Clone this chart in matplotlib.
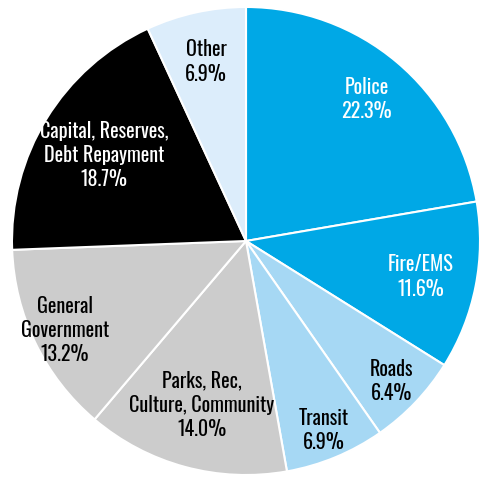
import numpy as np
import matplotlib
matplotlib.use("Agg")
from matplotlib import pyplot as plt

labels = ["Police", "Fire/EMS", "Roads", "Transit", "Parks, Rec,\nCulture, Community",
          "General\nGovernment", "Capital, Reserves,\nDebt Repayment", "Other"]
shares = [22.3, 11.6, 6.4, 6.9, 14.0, 13.2, 18.7, 6.9]

colors = ["#00a8e6", "#00a8e6", "#a6d8f4", "#a6d8f4", "#cccccc", "#cccccc", "#000000", "#dcedfb"]
text_colors = ["white", "white", "black", "black", "black", "black", "white", "black"]
label_dist = [0.80, 0.76, 0.86, 0.87, 0.72, 0.86, 0.71, 0.79]

plt.rcParams['font.family'] = ['Oswald', 'DejaVu Sans']

fig = plt.figure(figsize=(4.8, 4.81), dpi=100)
ax = fig.add_axes([0, 0, 1, 1])

wedges, _ = ax.pie(shares, colors=colors, startangle=90, counterclock=False,
                   radius=1.0, wedgeprops=dict(edgecolor="white", linewidth=1.5))

# labels sit inside each wedge, at a per-slice distance from the centre
for w, lab, val, tc, d in zip(wedges, labels, shares, text_colors, label_dist):
    ang = np.deg2rad((w.theta1 + w.theta2) / 2)
    ax.text(d * np.cos(ang), d * np.sin(ang), "%s\n%.1f%%" % (lab, val),
            ha="center", va="center", color=tc, fontsize=14.5, fontweight=500,
            linespacing=1.25)

ax.set_xlim(-246 / 234, 234 / 234)
ax.set_ylim((242 - 481) / 234, 242 / 234)
ax.set_aspect("equal")
ax.axis("off")

fig.savefig("out.png", dpi=100)
